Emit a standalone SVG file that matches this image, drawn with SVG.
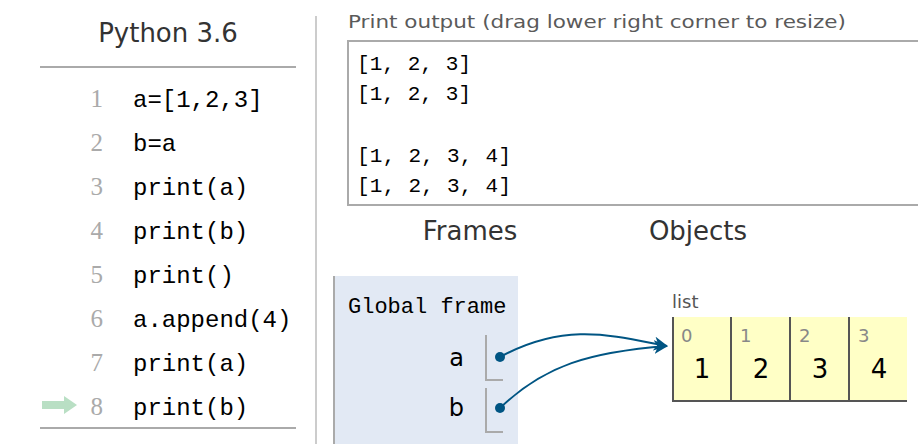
<svg xmlns="http://www.w3.org/2000/svg" width="918" height="444" viewBox="0 0 918 444">
<style>
.code{font-family:"Liberation Mono","DejaVu Sans Mono",monospace;font-size:24px;fill:#000}
.ln{font-family:"Liberation Serif","DejaVu Serif",serif;font-size:25px;fill:#aaa;text-anchor:end}
.out{font-family:"Liberation Mono","DejaVu Sans Mono",monospace;font-size:21px;fill:#000}
.head{font-family:"DejaVu Sans",Verdana,sans-serif;font-size:26px;fill:#333}
.var{font-family:"DejaVu Sans",Verdana,sans-serif;font-size:24px;fill:#000;text-anchor:end}
.idx{font-family:"DejaVu Sans",Verdana,sans-serif;font-size:18px;fill:#888}
.val{font-family:"DejaVu Sans",Verdana,sans-serif;font-size:26px;fill:#000;text-anchor:middle}
.rule{stroke:#aaa;stroke-width:2}
.slot{fill:none;stroke:#aaa;stroke-width:2}
.cell{fill:#ffffc6}
.cb{stroke:#555;stroke-width:2}
.ptr{fill:none;stroke:#005583;stroke-width:2}
.dot{fill:#005583}
</style>
<defs>
<marker id="ah" markerWidth="15" markerHeight="14" refX="13" refY="7" orient="auto" markerUnits="userSpaceOnUse">
<path d="M0,0 L14,7 L0,14 L4,7 z" fill="#005583"/>
</marker>
</defs>
<rect width="918" height="444" fill="#fff"/>

<g id="code-panel">
<text class="head" x="168" y="42" text-anchor="middle">Python 3.6</text>
<line class="rule" x1="40" y1="67" x2="296" y2="67"/>
<line class="rule" x1="40" y1="428" x2="296" y2="428"/>
<text class="ln" x="103" y="107">1</text><text class="code" x="133" y="107">a=[1,2,3]</text>
<text class="ln" x="103" y="151">2</text><text class="code" x="133" y="151">b=a</text>
<text class="ln" x="103" y="195">3</text><text class="code" x="133" y="195">print(a)</text>
<text class="ln" x="103" y="239">4</text><text class="code" x="133" y="239">print(b)</text>
<text class="ln" x="103" y="283">5</text><text class="code" x="133" y="283">print()</text>
<text class="ln" x="103" y="327">6</text><text class="code" x="133" y="327">a.append(4)</text>
<text class="ln" x="103" y="371">7</text><text class="code" x="133" y="371">print(a)</text>
<text class="ln" x="103" y="415">8</text><text class="code" x="133" y="415">print(b)</text>
<path d="M42,401 L64,401 L64,396 L77,405 L64,414 L64,409 L42,409 z" fill="#b9dfc4"/>
</g>

<line x1="316" y1="16" x2="316" y2="444" stroke="#ccc" stroke-width="2"/>

<g id="print-output">
<text x="348" y="28" font-family="'DejaVu Sans',Verdana,sans-serif" font-size="18" fill="#5a5a5a" textLength="498" lengthAdjust="spacingAndGlyphs">Print output (drag lower right corner to resize)</text>
<rect x="348" y="41" width="580" height="164" fill="#fff" stroke="#aaa" stroke-width="2"/>
<text class="out" x="357" y="70" textLength="114">[1, 2, 3]</text>
<text class="out" x="357" y="100" textLength="114">[1, 2, 3]</text>
<text class="out" x="357" y="162" textLength="154">[1, 2, 3, 4]</text>
<text class="out" x="357" y="192" textLength="154">[1, 2, 3, 4]</text>
</g>

<text class="head" x="470" y="240" text-anchor="middle">Frames</text>
<text class="head" x="698" y="240" text-anchor="middle">Objects</text>

<g id="global-frame">
<rect x="333" y="276" width="185" height="170" fill="#e2e9f4"/>
<line x1="334" y1="276" x2="334" y2="444" stroke="#aaa" stroke-width="2"/>
<text x="348" y="313" font-family="'Liberation Mono','DejaVu Sans Mono',monospace" font-size="22" fill="#000">Global frame</text>
<text class="var" x="464" y="366">a</text>
<path class="slot" d="M486,335 L486,380 L503,380"/>
<circle class="dot" cx="500" cy="357" r="5"/>
<text class="var" x="464" y="416">b</text>
<path class="slot" d="M486,388 L486,432 L503,432"/>
<circle class="dot" cx="500" cy="408" r="5"/>
</g>

<g id="list-object">
<text x="672" y="308" font-family="'DejaVu Sans',Verdana,sans-serif" font-size="18" fill="#555">list</text>
<rect class="cell" x="672" y="317" width="235" height="84"/>
<line class="cb" x1="673" y1="317" x2="673" y2="402"/>
<line class="cb" x1="731" y1="317" x2="731" y2="402"/>
<line class="cb" x1="790" y1="317" x2="790" y2="402"/>
<line class="cb" x1="849" y1="317" x2="849" y2="402"/>
<line class="cb" x1="672" y1="401" x2="907" y2="401"/>
<text class="idx" x="681" y="342">0</text>
<text class="idx" x="740" y="342">1</text>
<text class="idx" x="799" y="342">2</text>
<text class="idx" x="858" y="342">3</text>
<text class="val" x="702" y="378">1</text>
<text class="val" x="761" y="378">2</text>
<text class="val" x="820" y="378">3</text>
<text class="val" x="879" y="378">4</text>
</g>

<g id="connectors">
<path class="ptr" d="M500,357 C565,322 610,335 667,346" marker-end="url(#ah)"/>
<path class="ptr" d="M500,408 C545,365 590,352 667,346" marker-end="url(#ah)"/>
</g>
</svg>
